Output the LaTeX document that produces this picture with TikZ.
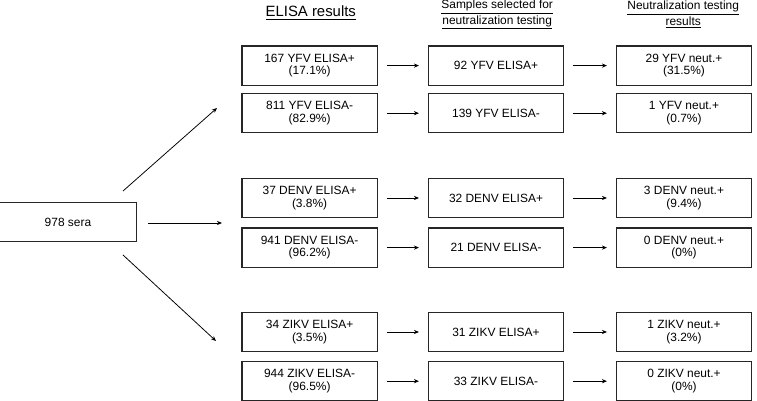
\documentclass[tikz,border=0pt]{standalone}
\usepackage{fontspec}
\setmainfont{Liberation Sans}
\usetikzlibrary{arrows.meta}

\tikzset{
  box/.style={draw=black!85, line width=0.9pt, minimum width=3.38cm, minimum height=0.98cm,
    align=center, inner sep=1pt, font=\fontsize{8.5}{9.1}\selectfont},
  arr/.style={line width=0.55pt, -{Stealth[length=3.6pt,width=3pt]}},
  step arr/.style={arr, shorten <=0.22cm, shorten >=0.22cm},
  head/.style={align=center, inner sep=0pt, font=\fontsize{8.5}{9.2}\selectfont}
}

\begin{document}
\begin{tikzpicture}
  \useasboundingbox (0,0) rectangle (18.925,-10.025);
  % headings
  \node [head, font=\fontsize{10.6}{12}\selectfont] (h1) at (7.77,-0.32) {\underline{ELISA results}};
  \node [head] (h2) at (12.43,-0.37) {\underline{Samples selected for}\\\underline{neutralization testing}};
  \node [head] (h3) at (17.08,-0.37) {\underline{Neutralization testing}\\\underline{results}};
  % start
  \node [box, minimum width=3.43cm] (sera) at (1.7,-5.55) {978 sera};
  % ELISA results
  \node [box] (yp1) at (7.74,-1.64) {167 YFV ELISA+\\(17.1\%)};
  \node [box] (ym1) at (7.74,-2.83) {811 YFV ELISA-\\(82.9\%)};
  \node [box] (dp1) at (7.74,-4.95) {37 DENV ELISA+\\(3.8\%)};
  \node [box] (dm1) at (7.74,-6.19) {941 DENV ELISA-\\(96.2\%)};
  \node [box] (zp1) at (7.74,-8.30) {34 ZIKV ELISA+\\(3.5\%)};
  \node [box] (zm1) at (7.74,-9.53) {944 ZIKV ELISA-\\(96.5\%)};
  % samples selected
  \node [box] (yp2) at (12.40,-1.64) {92 YFV ELISA+};
  \node [box] (ym2) at (12.40,-2.83) {139 YFV ELISA-};
  \node [box] (dp2) at (12.40,-4.95) {32 DENV ELISA+};
  \node [box] (dm2) at (12.40,-6.19) {21 DENV ELISA-};
  \node [box] (zp2) at (12.40,-8.30) {31 ZIKV ELISA+};
  \node [box] (zm2) at (12.40,-9.53) {33 ZIKV ELISA-};
  % neutralization results
  \node [box] (yp3) at (17.10,-1.64) {29 YFV neut.+\\(31.5\%)};
  \node [box] (ym3) at (17.10,-2.83) {1 YFV neut.+\\(0.7\%)};
  \node [box] (dp3) at (17.10,-4.95) {3 DENV neut.+\\(9.4\%)};
  \node [box] (dm3) at (17.10,-6.19) {0 DENV neut.+\\(0\%)};
  \node [box] (zp3) at (17.10,-8.30) {1 ZIKV neut.+\\(3.2\%)};
  \node [box] (zm3) at (17.10,-9.53) {0 ZIKV neut.+\\(0\%)};
  % arrow ends from sera
  \coordinate (up0) at (3.075,-4.775);
  \coordinate (up1) at (5.425,-2.70);
  \coordinate (mid0) at (3.70,-5.575);
  \coordinate (mid1) at (5.55,-5.575);
  \coordinate (dn0) at (3.075,-6.375);
  \coordinate (dn1) at (5.40,-8.525);
  \draw [arr] (up0) -- (up1);
  \draw [arr] (mid0) -- (mid1);
  \draw [arr] (dn0) -- (dn1);
  % rows
  \foreach \r in {yp,ym,dp,dm,zp,zm} {
    \draw [step arr] (\r1) -- (\r2);
    \draw [step arr] (\r2) -- (\r3);
  }
\end{tikzpicture}
\end{document}
